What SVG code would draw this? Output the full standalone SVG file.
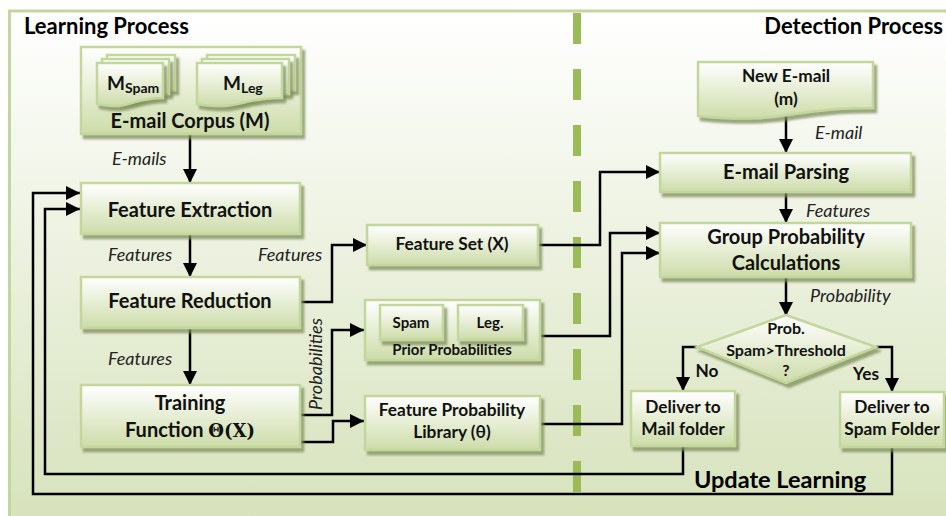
<svg xmlns="http://www.w3.org/2000/svg" width="946" height="516" viewBox="0 0 946 516">
<defs>
<linearGradient id="bg" x1="0" y1="0" x2="0" y2="1"><stop offset="0" stop-color="#ffffff"/><stop offset="1" stop-color="#d6e2bb"/></linearGradient>
<linearGradient id="ng" x1="0" y1="0" x2="0" y2="1"><stop offset="0" stop-color="#ffffff"/><stop offset="1" stop-color="#cddca9"/></linearGradient>
<filter id="sh" x="-10%" y="-10%" width="130%" height="140%"><feDropShadow dx="3" dy="4" stdDeviation="0.8" flood-color="#7d8c5c" flood-opacity="0.75"/></filter>
<marker id="ah" markerWidth="14" markerHeight="14" refX="14" refY="7" orient="auto" markerUnits="userSpaceOnUse"><path d="M0,0 L14,7 L0,14 Z" fill="#000"/></marker>
</defs>
<style>
.box{fill:url(#ng);stroke:#c3d69b;stroke-width:2.5;filter:url(#sh)}
.t{font-family:Lato,"Liberation Sans",sans-serif;font-weight:bold;font-size:20px;text-anchor:middle;fill:#111}
.s{font-size:17.3px}
.d{font-size:16px}
.xs{font-size:15px}
.lab{font-family:Lato,"Liberation Sans",sans-serif;font-style:italic;font-size:18px;fill:#222}
.hd{font-family:Lato,"Liberation Sans",sans-serif;font-weight:bold;font-size:22px;fill:#000}
.ln{fill:none;stroke:#000;stroke-width:2.5}
.arr{marker-end:url(#ah)}
</style>
<rect x="9.5" y="11" width="945" height="515" fill="url(#bg)" stroke="#c3d69b" stroke-width="3"/>
<line x1="577" y1="13" x2="577" y2="492" stroke="#9bbb59" stroke-width="8" stroke-dasharray="31 25"/>
<text class="hd" x="24" y="34">Learning Process</text>
<text class="hd" x="943" y="34" style="text-anchor:end">Detection Process</text>
<text class="hd" x="780" y="488" style="text-anchor:middle;font-size:23.5px">Update Learning</text>

<g id="connectors">
<path class="ln arr" d="M190,135 V183"/>
<path class="ln arr" d="M190,234 V277"/>
<path class="ln arr" d="M190,328 V385"/>
<path class="ln arr" d="M300,302 H332 V245 H367"/>
<path class="ln arr" d="M300,415 H332 V330 H364"/>
<path class="ln arr" d="M300,442 H333 V421 H364"/>
<path class="ln arr" d="M539,245 H600 V172 H660"/>
<path class="ln arr" d="M540,336 H610 V233 H660"/>
<path class="ln arr" d="M540,424 H622 V253 H660"/>
<path class="ln arr" d="M786,116 V153"/>
<path class="ln arr" d="M786,192 V223"/>
<path class="ln arr" d="M786,277 V316"/>
<path class="ln arr" d="M697,347 H683 V391"/>
<path class="ln arr" d="M876,347 H892 V392"/>
<path class="ln arr" d="M683,446 V474 H45 V209 H80"/>
<path class="ln arr" d="M892,447 V494 H33 V193 H80"/>
<text class="lab" x="112" y="165">E-mails</text>
<text class="lab" x="108" y="261">Features</text>
<text class="lab" x="108" y="365">Features</text>
<text class="lab" x="258" y="261">Features</text>
<text class="lab" x="322" y="364" style="text-anchor:middle" transform="rotate(-90 322 364)">Probabilities</text>
<text class="lab" x="815" y="139">E-mail</text>
<text class="lab" x="806" y="217">Features</text>
<text class="lab" x="810" y="302">Probability</text>
<text class="t s" x="707" y="377">No</text>
<text class="t s" x="866" y="380">Yes</text>
</g>

<g id="corpus">
<rect class="box" x="81" y="47" width="220" height="87"/>
<path class="box" d="M107,55 H175 V90 C141,90 141,103 107,96 Z"/>
<path class="box" d="M102,59 H169 V94 C135,94 135,107 102,100 Z"/>
<path class="box" d="M97,63 H163 V98 C130,98 130,111 97,104 Z"/>
<path class="box" d="M207,55 H295 V90 C251,90 251,103 207,96 Z"/>
<path class="box" d="M202,59 H289 V94 C245,94 245,107 202,100 Z"/>
<path class="box" d="M197,63 H282 V98 C240,98 240,111 197,104 Z"/>
<text class="t" x="107" y="90" style="text-anchor:start;font-size:19px">M<tspan style="font-size:14px" dy="3">Spam</tspan></text>
<text class="t" x="223" y="90" style="text-anchor:start;font-size:19px">M<tspan style="font-size:14px" dy="3">Leg</tspan></text>
<text class="t" x="190" y="128">E-mail Corpus (M)</text>
</g>
<g id="fe"><rect class="box" x="81" y="183" width="219" height="51"/><text class="t" x="190" y="217">Feature Extraction</text></g>
<g id="fr"><rect class="box" x="81" y="277" width="219" height="51"/><text class="t" x="190" y="308">Feature Reduction</text></g>
<g id="tf"><rect class="box" x="81" y="385" width="219" height="62"/><text class="t" x="190" y="410">Training</text><text class="t" x="190" y="437">Function <tspan style="font-family:'DejaVu Serif',serif;font-size:18px">Θ(X)</tspan></text></g>
<g id="fs"><rect class="box" x="367" y="225" width="171" height="40"/><text class="t s" x="452" y="250">Feature Set (X)</text></g>
<g id="prior"><rect class="box" x="365" y="300" width="175" height="60"/>
<rect class="box" x="380" y="305" width="63" height="35"/><rect class="box" x="458" y="305" width="65" height="35"/>
<text class="t xs" x="411" y="328">Spam</text><text class="t xs" x="490" y="328">Leg.</text>
<text class="t xs" x="452" y="355">Prior Probabilities</text></g>
<g id="lib"><rect class="box" x="365" y="396" width="175" height="54"/><text class="t s" x="452" y="416">Feature Probability</text><text class="t s" x="452" y="438">Library (θ)</text></g>
<g id="newmail"><path class="box" d="M698,62 H873 V108 C786,108 786,125 698,116 Z"/><text class="t s" x="786" y="82">New E-mail</text><text class="t s" x="786" y="105">(m)</text></g>
<g id="parse"><rect class="box" x="660" y="153" width="251" height="39"/><text class="t" x="786" y="179">E-mail Parsing</text></g>
<g id="gpc"><rect class="box" x="660" y="223" width="251" height="54"/><text class="t" x="786" y="244">Group Probability</text><text class="t" x="786" y="270">Calculations</text></g>
<g id="decision"><path class="box" d="M786,315 L876,347 L786,383 L697,347 Z"/><text class="t d" x="786" y="334">Prob.</text><text class="t d" x="786" y="356">Spam&gt;Threshold</text><text class="t d" x="786" y="376">?</text></g>
<g id="mail"><rect class="box" x="631" y="391" width="104" height="55"/><text class="t s" x="683" y="413">Deliver to</text><text class="t s" x="683" y="435">Mail folder</text></g>
<g id="spam"><rect class="box" x="840" y="392" width="104" height="55"/><text class="t s" x="892" y="413">Deliver to</text><text class="t s" x="892" y="435">Spam Folder</text></g>
</svg>
